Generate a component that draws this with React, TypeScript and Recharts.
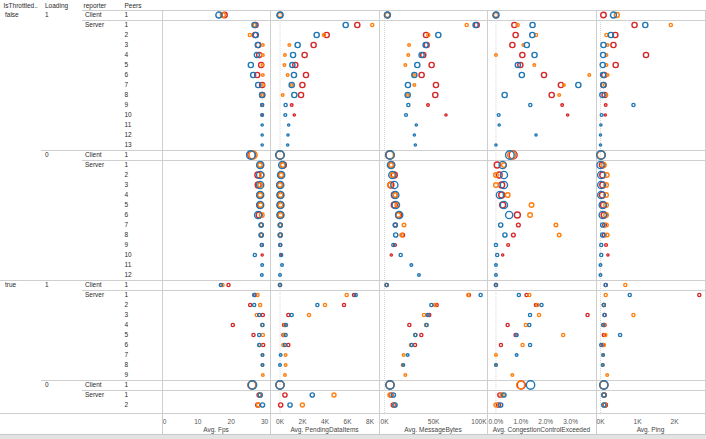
import React from 'react';
import { ScatterChart, Scatter, XAxis, YAxis, ZAxis } from 'recharts';

const BLUE = '#1f77b4';
const ORANGE = '#ff7f0e';
const RED = '#d62728';
const FONT = '"Liberation Sans", Arial, sans-serif';

// ---- row dimensions ----
const isThrottled = [
  'false','false','false','false','false','false','false','false','false','false','false','false','false','false',
  'false','false','false','false','false','false','false','false','false','false','false','false','false',
  'true','true','true','true','true','true','true','true','true','true',
  'true','true','true',
];
const loading = [
  '1','1','1','1','1','1','1','1','1','1','1','1','1','1',
  '0','0','0','0','0','0','0','0','0','0','0','0','0',
  '1','1','1','1','1','1','1','1','1','1',
  '0','0','0',
];
const reporter = [
  'Client','Server','Server','Server','Server','Server','Server','Server','Server','Server','Server','Server','Server','Server',
  'Client','Server','Server','Server','Server','Server','Server','Server','Server','Server','Server','Server','Server',
  'Client','Server','Server','Server','Server','Server','Server','Server','Server','Server',
  'Client','Server','Server',
];
const peers = [
  '1','1','2','3','4','5','6','7','8','9','10','11','12','13',
  '1','1','2','3','4','5','6','7','8','9','10','11','12',
  '1','1','2','3','4','5','6','7','8','9',
  '1','1','2',
];

// ---- Avg. Fps ----
const fpsBlue = [
  16.3, 27.0, 27.4, 28.0, 27.7, 25.9, 26.6, 28.1, 29.3, 29.3, 29.3, 29.3, 29.3, 29.3,
  25.9, 28.7, 28.7, 28.7, 28.7, 28.7, 28.1, 29.0, 29.0, 29.2, 27.1, 29.3, 29.2,
  16.9, 26.9, 26.9, 28.4, 29.4, 28.4, 28.4, 29.4, 29.4, null,
  26.4, 28.7, 29.4,
];
const fpsOrange = [
  17.5, 27.0, 25.6, 29.5, 29.5, 29.4, 29.5, 29.6, 29.4, null, null, null, null, null,
  26.6, 28.6, 29.2, 28.7, 28.7, 28.8, 29.2, 29.0, 29.1, null, null, null, null,
  17.4, 27.9, 28.7, 27.7, 29.3, 29.5, 28.6, 29.4, 29.4, 29.5,
  26.3, 28.7, 28.2,
];
const fpsRed = [
  18.0, 27.3, 27.2, 28.1, 28.4, 29.0, 27.8, 29.3, 29.3, 29.3, 29.3, null, null, null,
  26.2, 28.8, 28.0, 28.1, 28.7, 28.7, 28.4, 29.0, 29.0, 29.2, 29.3, null, null,
  19.2, 27.2, 25.7, 29.5, 20.5, 26.7, 29.6, null, null, null,
  26.2, 28.4, 28.0,
];

// ---- Avg. PendingDataItems ----
const pendBlue = [
  0, 5840, 3260, 1570, 1160, 1100, 1240, 1040, 1270, 500, 470, 770, 710, 680,
  0, 200, 100, 20, 40, 40, 40, 20, 20, 20, 100, 180, 0,
  0, 6730, 3320, 1040, 530, 500, 440, 60, 0, null,
  0, 2870, 890,
];
const pendOrange = [
  0, 8200, 3910, 830, 440, 390, 680, 1040, 240, null, null, null, null, null,
  0, 230, 100, 0, 40, 40, 40, 20, 20, null, null, null, null,
  0, 5930, 4000, 2580, 440, 360, 300, 500, 500, 440,
  0, 4800, 1990,
];
const pendRed = [
  0, 6870, 4150, 2990, 2190, 1360, 2310, 1990, 1870, 1040, 1270, null, null, null,
  0, 300, 100, 0, 40, 40, 40, 30, 30, 30, 60, null, null,
  0, 6580, 5690, 740, 360, 300, 740, null, null, null,
  0, 440, 60,
];

// ---- Avg. MessageBytes ----
const msgBlue = [
  2900, 92800, 54800, 41900, 37800, 33400, 30400, 23900, 23600, 24300, 21900, 32400, 30400, 31400,
  5600, 6600, 8000, 10000, 11000, 11400, 15000, 11000, 11400, 9000, 16500, 27300, 35100,
  2200, 97900, 47700, 44000, 42900, 31400, 27700, 23600, 19200, null,
  5600, 9000, 10700,
];
const msgOrange = [
  2900, 83700, 44600, 25000, 24300, 21200, 30000, 30400, 23600, null, null, null, null, null,
  5000, 6600, 8300, 5600, 11300, 13000, 14000, 19900, 17500, null, null, null, null,
  2200, 85400, 51400, 40200, 42300, 31400, 27000, 19500, 18500, 21200,
  5600, 5600, 10000,
];
const msgRed = [
  2900, 93900, 42300, 42900, 39500, 48000, 37800, 52400, 51700, 44300, 62600, null, null, null,
  5600, 7300, 10000, 6500, 10000, 10000, 14300, 11000, 18500, 10700, 6900, null, null,
  2200, 86000, 53100, 45600, 25300, 37500, 31100, null, null, null,
  5600, 6600, 9000,
];

// ---- Avg. CongestionControlExceeded ----
const congBlue = [
  0, 0.0147, 0.0146, 0.0124, 0.0155, 0.0088, 0.0104, 0.0331, 0.0035, 0.0138, 0.0011, 0.0013, 0.0161, 0,
  0.0056, 0.0027, 0.0032, 0.0032, 0.0016, 0.0032, 0.0053, 0.0019, 0.0036, 0, 0.0005, 0, 0,
  0, 0.0092, 0.0183, 0.0137, 0.0134, 0.0083, 0.0137, 0.0083, 0, null,
  0.0139, 0.0032, 0.0019,
];
const congOrange = [
  0, 0.0087, 0.0161, 0.011, 0, 0.0154, 0.0375, 0.0273, 0.0254, null, null, null, null, null,
  0.0063, 0.0032, 0, 0, 0.0047, 0.0143, 0.0137, 0.0241, 0.0254, null, null, null, null,
  0, 0.0134, 0.0166, 0.0173, 0.012, 0.027, 0.0107, 0, 0, 0.0066,
  0.0099, 0.0025, 0,
];
const congRed = [
  0, 0.0074, 0.0079, 0.0066, 0.0106, 0.0098, 0.0193, 0.0261, 0.0224, 0.0266, 0.0288, null, null, null,
  0.0069, 0.0005, 0.0013, 0.0023, 0.0023, 0.0027, 0.0086, 0.009, 0.007, 0.0049, 0.0027, null, null,
  0, 0.0123, 0.0161, 0.0368, 0.0047, 0.0079, 0.002, null, null, null,
  0.0102, 0.0016, 0.001,
];

// ---- Avg. Ping ----
const pingBlue = [
  350, 1210, 280, 80, 70, 60, 70, 80, 50, 890, 30, 10, 0, 0,
  10, 0, 20, 20, 20, 60, 60, 60, 60, 20, 20, 0, 0,
  140, 790, 90, 110, 70, 530, 20, 70, 60, null,
  90, 90, 90,
];
const pingOrange = [
  440, 1900, 160, 190, 160, 160, 190, 110, 160, null, null, null, null, null,
  20, 90, 170, 150, 150, 150, 150, 160, 180, null, null, null, null,
  670, 140, 90, 890, 90, 130, 90, 70, 60, 180,
  90, 90, 110,
];
const pingRed = [
  80, 920, 400, 350, 1230, 410, 100, 80, 110, 140, 130, null, null, null,
  20, 50, 60, 60, 50, 80, 100, 110, 100, 150, 200, null, null,
  140, 2670, 90, 110, 110, 90, 60, null, null, null,
  90, 100, 130,
];

// ---- record counts (mark size) ----
const countBlue = [
  36, 27, 27, 27, 27, 27, 27, 27, 27, 10, 8, 5, 5, 5,
  74, 52, 52, 52, 52, 52, 52, 18, 18, 10, 10, 7, 7,
  10, 10, 10, 10, 10, 10, 10, 7, 7, null,
  70, 18, 18,
];
const countOrange = [
  25, 10, 10, 7, 7, 7, 7, 7, 7, null, null, null, null, null,
  64, 21, 21, 21, 21, 21, 21, 13, 13, null, null, null, null,
  10, 10, 10, 10, 10, 10, 10, 7, 7, 7,
  64, 16, 16,
];
const countRed = [
  30, 27, 27, 27, 27, 27, 27, 27, 27, 7, 5, null, null, null,
  64, 36, 36, 36, 36, 36, 36, 14, 14, 8, 5, null, null,
  10, 10, 10, 10, 10, 10, 10, null, null, null,
  64, 18, 18,
];

const kFmt = (v: number) => `${v / 1000}K`;

const panels = [
  { title: 'Avg. Fps', left: 162, width: 108, domain: [-0.75, 31.65], ticks: [0, 10, 20, 30], fmt: (v: number) => String(v), vals: [fpsBlue, fpsOrange, fpsRed], zero: false },
  { title: 'Avg. PendingDataItems', left: 270, width: 109, domain: [-889, 8800], ticks: [0, 2000, 4000, 6000, 8000], fmt: kFmt, vals: [pendBlue, pendOrange, pendRed], zero: true },
  { title: 'Avg. MessageBytes', left: 379, width: 108, domain: [-5600, 104380], ticks: [0, 50000, 100000], fmt: kFmt, vals: [msgBlue, msgOrange, msgRed], zero: true },
  { title: 'Avg. CongestionControlExceeded', left: 487, width: 109, domain: [-0.0036, 0.0402], ticks: [0, 0.01, 0.02, 0.03], fmt: (v: number) => `${(v * 100).toFixed(1)}%`, vals: [congBlue, congOrange, congRed], zero: true },
  { title: 'Avg. Ping', left: 596, width: 109, domain: [-122, 2824], ticks: [0, 1000, 2000], fmt: kFmt, vals: [pingBlue, pingOrange, pingRed], zero: true },
];

const seriesColors = [BLUE, ORANGE, RED];
const seriesCounts = [countBlue, countOrange, countRed];
const seriesNames = ['blue', 'orange', 'red'];
// painted bottom to top: red, orange, blue
const drawOrder = [2, 1, 0];

const TOP = 10;
const ROW_H = 10;
const PLOT_BOTTOM = 413;
const CHART_H = 427;
const LINE = '#cfcfcf';
const TEXT = '#2b2b2b';

const ring = (color: string) => (props: any) => {
  const { cx, cy, size, width } = props;
  if (cx == null || cy == null || Number.isNaN(cx) || Number.isNaN(cy)) return <g />;
  const r = size != null ? Math.sqrt(Math.max(size, 0) / Math.PI) : (width ?? 4) / 2;
  return <circle cx={cx} cy={cy} r={r} fill="none" stroke={color} strokeWidth={1.4} />;
};

const makeTick = (fmt: (v: number) => string, panelWidth: number) => (props: any) => {
  const { x, y, payload } = props;
  const label = fmt(payload.value);
  const w = label.length * 3.6;
  let anchor: 'middle' | 'end' | 'start' = 'middle';
  let tx = x;
  if (x + w / 2 > panelWidth - 0.5) {
    anchor = 'end';
    tx = panelWidth - 0.5;
  }
  return (
    <text x={tx} y={y} dy="0.71em" textAnchor={anchor} fontSize={6.5} fill="#555" fontFamily={FONT}>
      {label}
    </text>
  );
};

function Panel({ p }: { p: any }) {
  const visibleRows = (PLOT_BOTTOM - TOP) / ROW_H;
  return (
    <div style={{ position: 'absolute', left: p.left, top: TOP }}>
      <ScatterChart width={p.width} height={CHART_H} margin={{ top: 0, right: 0, bottom: 0, left: 0 }}>
        <XAxis
          type="number"
          dataKey="v"
          domain={p.domain}
          allowDataOverflow
          ticks={p.ticks}
          interval={0}
          tickFormatter={p.fmt}
          height={CHART_H - (PLOT_BOTTOM - TOP)}
          axisLine={false}
          tickLine={false}
          tickSize={4}
          tickMargin={2}
          tick={makeTick(p.fmt, p.width)}
        />
        <YAxis type="number" dataKey="row" domain={[-0.5, visibleRows - 0.5]} allowDataOverflow reversed hide />
        <ZAxis type="number" dataKey="n" domain={[0, 100]} range={[0, 78.54]} />
        {drawOrder.map((si) => {
          const vals: (number | null)[] = p.vals[si];
          const data = vals
            .map((v, i) => ({ row: i, v, n: seriesCounts[si][i] ?? 10 }))
            .filter((d) => d.v != null);
          return (
            <Scatter
              key={seriesNames[si]}
              name={seriesNames[si]}
              data={data}
              shape={ring(seriesColors[si])}
              isAnimationActive={false}
            />
          );
        })}
      </ScatterChart>
    </div>
  );
}

export default function App() {
  const rowY = (i: number) => TOP + ROW_H * (i + 0.5) + 2.3;
  const labels: React.ReactNode[] = [];
  for (let i = 0; i < peers.length; i++) {
    const newT = i === 0 || isThrottled[i] !== isThrottled[i - 1];
    const newL = newT || loading[i] !== loading[i - 1];
    const newR = newL || reporter[i] !== reporter[i - 1];
    if (newT) labels.push(<text key={`t${i}`} x={5} y={rowY(i)}>{isThrottled[i]}</text>);
    if (newL) labels.push(<text key={`l${i}`} x={45} y={rowY(i)}>{loading[i]}</text>);
    if (newR) labels.push(<text key={`r${i}`} x={85} y={rowY(i)}>{reporter[i]}</text>);
    labels.push(<text key={`p${i}`} x={124.5} y={rowY(i)}>{peers[i]}</text>);
  }

  const hLines: [number, number][] = [
    [10, 82], [20, 82], [150, 41], [160, 82], [280, 0], [290, 82], [380, 41], [390, 82], [413, 0],
  ];
  const vLines = [162, 270, 379, 487, 596, 705];

  return (
    <div style={{ position: 'fixed', left: 0, top: 0, width: 706, height: 439, background: '#fff', overflow: 'hidden' }}>
      <svg width={706} height={439} style={{ position: 'absolute', left: 0, top: 0 }}>
        {panels.filter((p) => p.zero).map((p) => {
          const x = p.left + ((0 - p.domain[0]) / (p.domain[1] - p.domain[0])) * p.width;
          return <line key={`z${p.title}`} x1={x} x2={x} y1={TOP} y2={PLOT_BOTTOM} stroke="#d6d6d6" strokeDasharray="1 1" />;
        })}
        {hLines.map(([y, x0]) => (
          <line key={`h${y}`} x1={x0} x2={706} y1={y + 0.5} y2={y + 0.5} stroke={LINE} />
        ))}
        {vLines.map((x) => (
          <line key={`v${x}`} x1={x + 0.5} x2={x + 0.5} y1={TOP} y2={434} stroke={LINE} />
        ))}
        <rect x={0} y={434} width={706} height={5} fill="#e3e3e3" />
        <line x1={0} x2={706} y1={434.5} y2={434.5} stroke="#c8c8c8" />
        <g fontFamily={FONT} fontSize={6.5} fill={TEXT}>
          <text x={3.5} y={8.3}>IsThrottled..</text>
          <text x={45} y={8.3}>Loading</text>
          <text x={83.5} y={8.3}>reporter</text>
          <text x={124.5} y={8.3}>Peers</text>
          {labels}
          {panels.map((p) => (
            <text key={`a${p.title}`} x={p.left + p.width / 2} y={431.5} textAnchor="middle" fill="#444">
              {p.title}
            </text>
          ))}
        </g>
      </svg>
      {panels.map((p) => (
        <Panel key={p.title} p={p} />
      ))}
    </div>
  );
}
